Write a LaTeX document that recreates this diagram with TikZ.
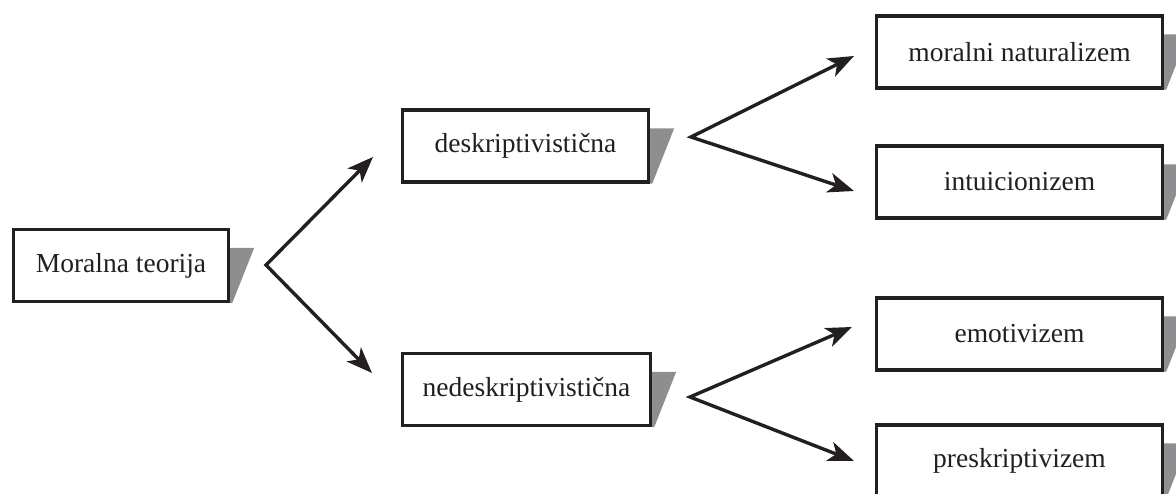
\documentclass[tikz,border=0pt]{standalone}
\usepackage{fontspec}
\setmainfont{Liberation Serif}
\usetikzlibrary{arrows.meta,calc}
\definecolor{ink}{HTML}{231F20}
\definecolor{shade}{HTML}{8E8E90}
\tikzset{
  box/.style={draw=ink, line width=3.4pt, fill=white, text=ink, inner sep=0pt,
    font=\fontsize{27.5}{30}\selectfont, minimum height=#1},
  box/.default=72pt,
  tipshape/.style={Stealth[length=26pt,width=20pt,inset=7pt]},
  fork/.style={draw=ink, line width=3.4pt, {Stealth[length=26pt,width=20pt,inset=7pt]}-{Stealth[length=26pt,width=20pt,inset=7pt]}},
  shadowfill/.style={fill=shade, draw=none}
}
\newcommand{\boxshadow}[1]{%
  \fill[shadowfill] ($(#1.north east)+(0,20)$) -- ($(#1.north east)+(24,20)$) -- ($(#1.south east)+(2,0)$) -- (#1.south east) -- cycle;}
\begin{document}
\begin{tikzpicture}[x=1pt,y=-1pt]
\useasboundingbox (0,0) rectangle (1176,494);
\node[box, minimum width=215pt] (mt) at (121,265.5) {Moralna teorija};
\node[box, minimum width=246pt] (de) at (525.5,146) {deskriptivistična};
\node[box, minimum width=248pt] (nd) at (526.5,389.5) {nedeskriptivistična};
\node[box, minimum width=286pt] (mn) at (1019.5,52) {moralni naturalizem};
\node[box, minimum width=286pt] (in) at (1019.5,182) {intuicionizem};
\node[box, minimum width=286pt] (em) at (1019.5,334) {emotivizem};
\node[box, minimum width=286pt] (pr) at (1019.5,461) {preskriptivizem};
\boxshadow{mt}
\boxshadow{de}
\boxshadow{nd}
\boxshadow{mn}
\boxshadow{in}
\boxshadow{em}
\boxshadow{pr}
% fork coordinates
\coordinate (v1) at (266,265);
\coordinate (t1a) at (373,157);
\coordinate (t1b) at (372,373);
\coordinate (v2) at (691,137);
\coordinate (t2a) at (854,56);
\coordinate (t2b) at (854,191);
\coordinate (v3) at (690,397);
\coordinate (t3a) at (852,327);
\coordinate (t3b) at (854,461);
\draw[fork] (t1a) -- (v1) -- (t1b);
\draw[fork] (t2a) -- (v2) -- (t2b);
\draw[fork] (t3a) -- (v3) -- (t3b);
\end{tikzpicture}
\end{document}
